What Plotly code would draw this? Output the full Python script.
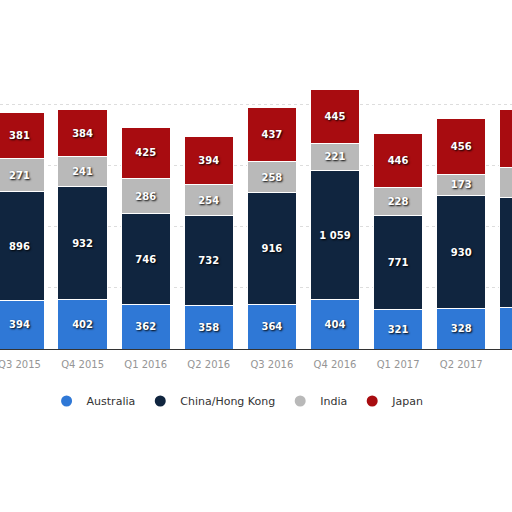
import plotly.graph_objects as go

quarters = ["Q3 2015", "Q4 2015", "Q1 2016", "Q2 2016", "Q3 2016", "Q4 2016", "Q1 2017", "Q2 2017", "Q3 2017"]
australia = [394, 402, 362, 358, 364, 404, 321, 328, 340]
china_hk = [896, 932, 746, 732, 916, 1059, 771, 930, 900]
india = [271, 241, 286, 254, 258, 221, 228, 173, 244]
japan = [381, 384, 425, 394, 437, 445, 446, 456, 475]
grid_values = [500, 1000, 1500, 2000]

series = [
    ("Australia", australia, "#2f78d6"),
    ("China/Hong Kong", china_hk, "#10253f"),
    ("India", india, "#b9b9b9"),
    ("Japan", japan, "#a80c10"),
]

def fmt(v):
    return f"{v:,}".replace(",", " ")

fig = go.Figure()
for name, vals, color in series:
    labels = [fmt(v) for v in vals[:-1]] + [""]  # last bar is cut off at the edge
    fig.add_trace(go.Bar(
        x=quarters, y=vals, name=name, showlegend=False,
        marker=dict(color=color, line=dict(color="white", width=1)),
        text=labels, texttemplate="%{text}", textposition="inside", insidetextanchor="middle",
        textangle=0,
        textfont=dict(family="DejaVu Sans", size=10, color="white", weight="bold",
                      shadow="1px 1px 2px #000000"),
        hoverinfo="skip", cliponaxis=True,
    ))
    fig.add_trace(go.Scatter(
        x=[None], y=[None], mode="markers", name=name,
        marker=dict(color=color, size=11, symbol="circle"),
    ))

fig.update_layout(
    width=512, height=512,
    barmode="stack", bargap=0.22,
    paper_bgcolor="white", plot_bgcolor="white",
    margin=dict(l=0, r=0, t=0, b=163, autoexpand=False),
    uniformtext=dict(minsize=6, mode="show"),
    xaxis=dict(
        range=[-0.309, 7.805], automargin=False, showgrid=False, showline=True,
        linecolor="#333333", linewidth=1, ticks="outside", ticklen=6,
        tickcolor="rgba(0,0,0,0)",
        tickfont=dict(family="DejaVu Sans", size=10, color="#959595"),
    ),
    yaxis=dict(
        range=[0, 2860], automargin=False, showticklabels=False, showline=False,
        zeroline=False, tickvals=grid_values, gridcolor="#dddddd", griddash="dot",
        gridwidth=1,
    ),
    legend=dict(
        orientation="h", x=0.465, xanchor="center", y=-0.149, yanchor="middle",
        font=dict(family="DejaVu Sans", size=11, color="#333333"),
        itemwidth=30, traceorder="normal",
    ),
    showlegend=True,
)

fig.write_html(
    "out.html",
    config={"displayModeBar": False},
    post_script="document.body.style.margin='0';document.body.style.overflow='hidden';",
)
